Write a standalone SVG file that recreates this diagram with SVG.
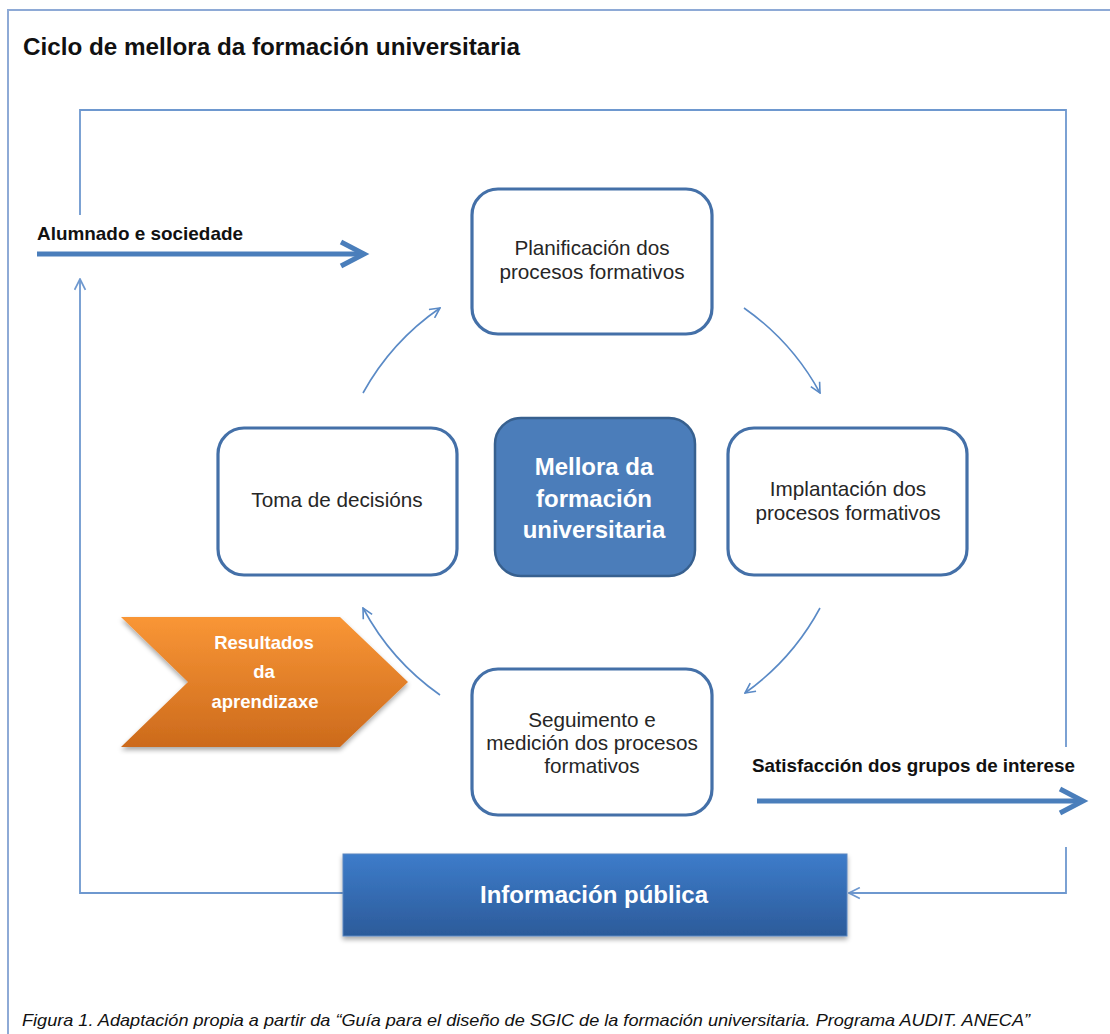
<svg xmlns="http://www.w3.org/2000/svg" width="1110" height="1034" viewBox="0 0 1110 1034">
<defs>
<style>
.frame{fill:none;stroke:#8eaad6;stroke-width:2}
.loop{fill:none;stroke:#6e98cf;stroke-width:1.8}
.cyc{fill:none;stroke:#5a8ac6;stroke-width:1.6}
.thick{fill:none;stroke:#4a7ebb;stroke-width:5;stroke-linecap:butt}
.box{fill:#ffffff;stroke:#4470a8;stroke-width:3.2}
.lbl{font-family:"Liberation Sans",Arial,sans-serif;font-size:20.7px;fill:#262626;text-anchor:middle}
.wb{font-family:"Liberation Sans",Arial,sans-serif;font-weight:bold;fill:#ffffff;text-anchor:middle}
.bk{font-family:"Liberation Sans",Arial,sans-serif;font-weight:bold;fill:#111111}
</style>
<marker id="open" viewBox="0 0 12 12" refX="11" refY="6" markerWidth="12" markerHeight="12" markerUnits="userSpaceOnUse" orient="auto">
<path d="M1,1 L11,6 L1,11" fill="none" stroke="#5a8ac6" stroke-width="1.6"/>
</marker>
<marker id="open2" viewBox="0 0 12 12" refX="11" refY="6" markerWidth="13" markerHeight="13" markerUnits="userSpaceOnUse" orient="auto">
<path d="M1,1 L11,6 L1,11" fill="none" stroke="#6e98cf" stroke-width="1.6"/>
</marker>
<linearGradient id="gInfo" x1="0" y1="0" x2="0" y2="1">
<stop offset="0" stop-color="#3d7cca"/>
<stop offset="1" stop-color="#2c5b9a"/>
</linearGradient>
<linearGradient id="gOr" x1="0" y1="0" x2="0" y2="1">
<stop offset="0" stop-color="#f99636"/>
<stop offset="1" stop-color="#cc6a1c"/>
</linearGradient>
<filter id="sh" x="-10%" y="-10%" width="120%" height="130%">
<feGaussianBlur in="SourceAlpha" stdDeviation="2.5"/>
<feOffset dx="0" dy="3" result="b"/>
<feComponentTransfer><feFuncA type="linear" slope="0.35"/></feComponentTransfer>
<feMerge><feMergeNode/><feMergeNode in="SourceGraphic"/></feMerge>
</filter>
</defs>
<rect width="1110" height="1034" fill="#ffffff"/>
<path class="frame" d="M8,1034 V10 H1110"/>
<text id="title" class="bk" x="23" y="55" font-size="24" textLength="497" lengthAdjust="spacingAndGlyphs">Ciclo de mellora da formación universitaria</text>

<g id="connectors">
<path class="loop" d="M80,215 V110 H1066 V747"/>
<path class="loop" d="M1066,847 V893 H849" marker-end="url(#open2)"/>
<path class="loop" d="M343,893 H80 V279" marker-end="url(#open2)"/>
<path class="cyc" d="M363,393 A250,250 0 0 1 440,308" marker-end="url(#open)"/>
<path class="cyc" d="M744,308 A250,250 0 0 1 820,393" marker-end="url(#open)"/>
<path class="cyc" d="M820,608 A250,250 0 0 1 745,693" marker-end="url(#open)"/>
<path class="cyc" d="M440,695 A250,250 0 0 1 363,608" marker-end="url(#open)"/>
<g id="in-arrow">
<line class="thick" x1="37" y1="254" x2="362" y2="254"/>
<polyline class="thick" points="341,242 364,254 341,266"/>
<text class="bk" x="37" y="240" font-size="19" textLength="206" lengthAdjust="spacingAndGlyphs">Alumnado e sociedade</text>
</g>
<g id="out-arrow">
<line class="thick" x1="757" y1="801" x2="1081" y2="801"/>
<polyline class="thick" points="1060,789 1083,801 1060,813"/>
<text class="bk" x="752" y="772" font-size="19" textLength="323" lengthAdjust="spacingAndGlyphs">Satisfacción dos grupos de interese</text>
</g>
</g>

<g id="planificacion">
<rect class="box" x="472" y="189" width="240" height="145" rx="26"/>
<text class="lbl" x="592" y="255">Planificación dos</text>
<text class="lbl" x="592" y="279">procesos formativos</text>
</g>
<g id="implantacion">
<rect class="box" x="728" y="428" width="239" height="147" rx="26"/>
<text class="lbl" x="848" y="496">Implantación dos</text>
<text class="lbl" x="848" y="520">procesos formativos</text>
</g>
<g id="seguimento">
<rect class="box" x="472" y="669" width="240" height="146" rx="26"/>
<text class="lbl" x="592" y="727">Seguimento e</text>
<text class="lbl" x="592" y="750">medición dos procesos</text>
<text class="lbl" x="592" y="773">formativos</text>
</g>
<g id="toma">
<rect class="box" x="218" y="428" width="239" height="147" rx="26"/>
<text class="lbl" x="337" y="507">Toma de decisións</text>
</g>
<g id="mellora">
<rect x="495" y="418" width="200" height="158" rx="26" fill="#4b7dba" stroke="#37608f" stroke-width="2.5"/>
<text class="wb" x="594" y="475" font-size="24">Mellora da</text>
<text class="wb" x="594" y="507" font-size="24">formación</text>
<text class="wb" x="594" y="538" font-size="24">universitaria</text>
</g>
<g id="resultados">
<polygon points="121,617 340,617 408,682 340,747 121,747 188,682" fill="url(#gOr)" filter="url(#sh)"/>
<text class="wb" x="264" y="649" font-size="18.5">Resultados</text>
<text class="wb" x="264" y="678" font-size="18.5">da</text>
<text class="wb" x="265" y="708" font-size="18.5">aprendizaxe</text>
</g>
<g id="informacion">
<rect x="343" y="854" width="504" height="82" fill="url(#gInfo)" stroke="#5a86c0" stroke-width="1" filter="url(#sh)"/>
<text class="wb" x="594" y="903" font-size="24">Información pública</text>
</g>

<text id="caption" x="22" y="1026" font-family="'Liberation Sans',Arial,sans-serif" font-style="italic" font-size="17" fill="#111111" textLength="1008" lengthAdjust="spacingAndGlyphs">Figura 1. Adaptación propia a partir da “Guía para el diseño de SGIC de la formación universitaria. Programa AUDIT. ANECA”</text>
</svg>
